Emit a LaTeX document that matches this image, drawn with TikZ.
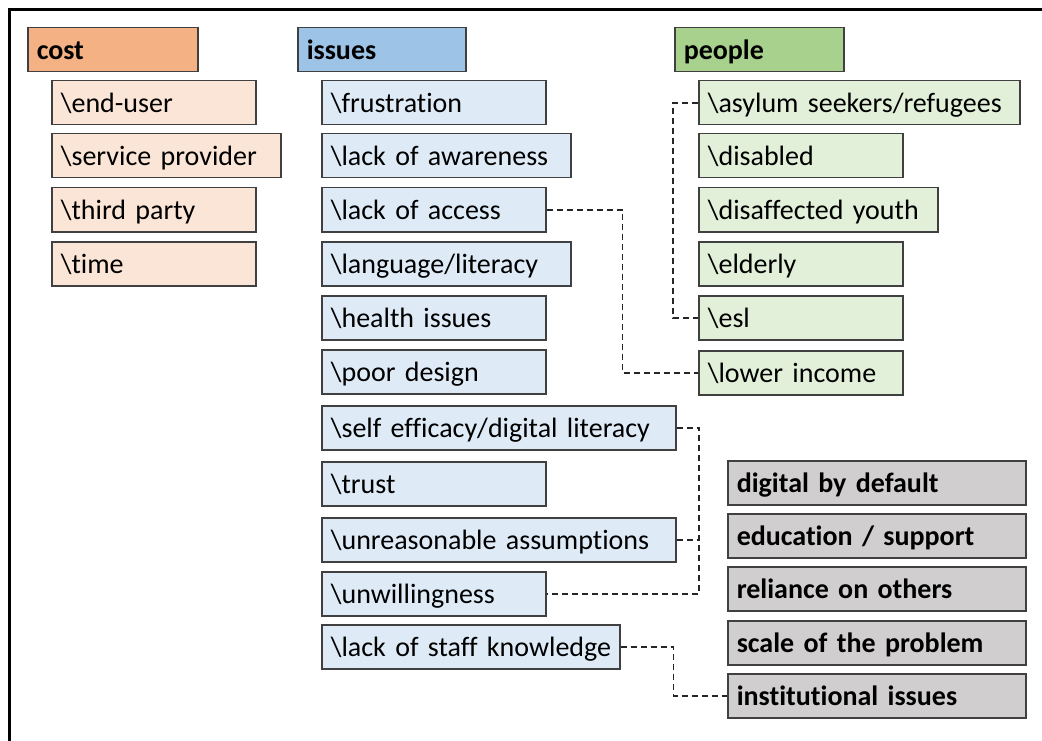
\documentclass[tikz,border=0pt]{standalone}
\usepackage{fontspec}
\setmainfont[Ligatures=NoCommon]{Carlito}
\hyphenpenalty=10000
\definecolor{edgegray}{HTML}{404040}
\definecolor{costhead}{HTML}{F4B183}
\definecolor{costitem}{HTML}{FBE5D6}
\definecolor{isshead}{HTML}{9DC3E6}
\definecolor{issitem}{HTML}{DEEBF7}
\definecolor{pplhead}{HTML}{A9D18E}
\definecolor{pplitem}{HTML}{E2F0D9}
\definecolor{greybox}{HTML}{D0CECE}
\tikzset{
  base/.style={draw=edgegray, line width=1.5pt, rectangle, anchor=north west,
    inner xsep=9pt, inner ysep=0pt, text height=32pt, text depth=12pt,
    align=left, font=\fontsize{28}{32}\selectfont, text=black},
  head/.style={base, font=\fontsize{28}{32}\selectfont\bfseries},
  costh/.style={head, fill=costhead},
  costi/.style={base, fill=costitem},
  issh/.style={head, fill=isshead},
  issi/.style={base, fill=issitem},
  pplh/.style={head, fill=pplhead},
  ppli/.style={base, fill=pplitem},
  greyb/.style={head, fill=greybox},
  conn/.style={draw=black!85, line width=1.8pt, dash pattern=on 6pt off 4pt},
  frameline/.style={draw=black, line width=2.7pt}
}
\begin{document}
\begin{tikzpicture}[x=1pt,y=-1pt]
\useasboundingbox (0,0) rectangle (1042,741);
\draw[frameline] (9.7,741) -- (9.7,9.7) -- (1042,9.7);

% cost
\node[costh, text width=152pt] (cost) at (27,27) {cost};
\node[costi, text width=186pt] (enduser) at (51,80) {\mbox{\textbackslash end-user}};
\node[costi, text width=211pt] (provider) at (51,133) {\mbox{\textbackslash service provider}};
\node[costi, text width=186pt] (third) at (51,187) {\mbox{\textbackslash third party}};
\node[costi, text width=186pt] (time) at (51,241) {\mbox{\textbackslash time}};

% issues
\node[issh, text width=150pt] (issues) at (297,27) {issues};
\node[issi, text width=206pt] (frus) at (321,80) {\mbox{\textbackslash frustration}};
\node[issi, text width=231pt] (aware) at (321,133) {\mbox{\textbackslash lack of awareness}};
\node[issi, text width=206pt] (access) at (321,187) {\mbox{\textbackslash lack of access}};
\node[issi, text width=231pt] (lang) at (321,241) {\mbox{\textbackslash language/literacy}};
\node[issi, text width=206pt] (health) at (321,295) {\mbox{\textbackslash health issues}};
\node[issi, text width=206pt] (poor) at (321,349) {\mbox{\textbackslash poor design}};
\node[issi, text width=336pt] (self) at (321,405) {\mbox{\textbackslash self efficacy/digital literacy}};
\node[issi, text width=206pt] (trust) at (321,461) {\mbox{\textbackslash trust}};
\node[issi, text width=336pt] (unreas) at (321,517) {\mbox{\textbackslash unreasonable assumptions}};
\node[issi, text width=206pt] (unwill) at (321,571) {\mbox{\textbackslash unwillingness}};
\node[issi, text width=280pt] (staff) at (321,624) {\mbox{\textbackslash lack of staff knowledge}};

% people
\node[pplh, text width=151pt] (people) at (674,27) {people};
\node[ppli, text width=303pt] (asylum) at (698,80) {\mbox{\textbackslash asylum seekers/refugees}};
\node[ppli, text width=186pt] (disabled) at (698,133) {\mbox{\textbackslash disabled}};
\node[ppli, text width=221pt] (youth) at (698,187) {\mbox{\textbackslash disaffected youth}};
\node[ppli, text width=186pt] (elderly) at (698,241) {\mbox{\textbackslash elderly}};
\node[ppli, text width=186pt] (esl) at (698,295) {\mbox{\textbackslash esl}};
\node[ppli, text width=186pt] (lower) at (698,350) {\mbox{\textbackslash lower income}};

% grey
\node[greyb, text width=280pt] (digital) at (727,460) {digital by default};
\node[greyb, text width=280pt] (educ) at (727,513) {education / support};
\node[greyb, text width=280pt] (reliance) at (727,566) {reliance on others};
\node[greyb, text width=280pt] (scale) at (727,620) {scale of the problem};
\node[greyb, text width=280pt] (inst) at (727,673) {institutional issues};

% connectors
\draw[conn] (asylum.west) -- ++(-25,0) |- (esl.west);
\draw[conn] (access.east) -- ++(76,0) |- (lower.west);
\coordinate (jx) at (699,0);
\draw[conn] (self.east) -- (self.east -| jx) |- (unwill.east);
\draw[conn] (unreas.east) -- (unreas.east -| jx);
\draw[conn] (staff.east) -- ++(53,0) |- (inst.west);
\end{tikzpicture}
\end{document}
